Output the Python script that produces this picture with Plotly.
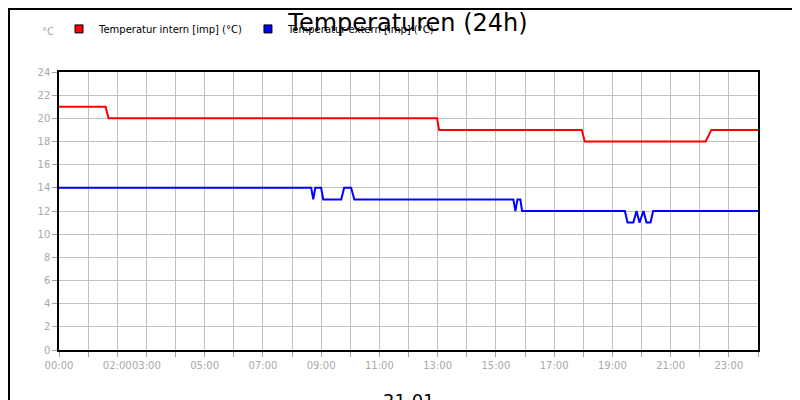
import plotly.graph_objects as go

intern_x = [0, 1.6, 1.7, 12.98, 13.05, 17.95, 18.05, 22.2, 22.4, 24]
intern_y = [21, 21, 20, 20, 19, 19, 18, 18, 19, 19]
extern_x = [0, 8.66, 8.73, 8.8, 9.0, 9.07, 9.69, 9.79, 10.03, 10.14, 15.6, 15.67, 15.74, 15.84, 15.9,
            19.43, 19.52, 19.72, 19.83, 19.93, 20.07, 20.17, 20.31, 20.4, 24]
extern_y = [14, 14, 13, 14, 14, 13, 13, 14, 14, 13, 13, 12, 13, 13, 12,
            12, 11, 11, 12, 11, 12, 11, 11, 12, 12]
hour_ticks = list(range(25))
label_hours = {0: "00:00", 2: "02:00", 3: "03:00", 5: "05:00", 7: "07:00", 9: "09:00", 11: "11:00",
               13: "13:00", 15: "15:00", 17: "17:00", 19: "19:00", 21: "21:00", 23: "23:00"}
tick_text = [label_hours.get(h, "") for h in hour_ticks]
y_ticks = list(range(0, 25, 2))
names = ["Temperatur intern [imp] (°C)", "Temperatur extern [imp] (°C)"]
colors = ["#ff0000", "#0000ff"]

fig = go.Figure()
fig.add_trace(go.Scatter(x=intern_x, y=intern_y, mode="lines", line=dict(color=colors[0], width=2),
                         showlegend=False))
fig.add_trace(go.Scatter(x=extern_x, y=extern_y, mode="lines", line=dict(color=colors[1], width=2),
                         showlegend=False))
for n, c in zip(names, colors):
    fig.add_trace(go.Scatter(x=[None], y=[None], mode="markers", name=n,
                             marker=dict(symbol="square", size=8, color=c, line=dict(color="black", width=1))))
axcommon = dict(showgrid=True, gridcolor="#c0c0c0", gridwidth=1, showline=True, linecolor="black",
                linewidth=1.5, mirror=True, ticks="outside", tickcolor="#a0a0a0", ticklen=5,
                tickfont=dict(family="DejaVu Sans", size=10, color="#a8a8a8"), zeroline=False)
fig.update_xaxes(range=[0, 24], tickvals=hour_ticks, ticktext=tick_text, tickangle=0, **axcommon)
fig.update_yaxes(range=[0, 24], tickvals=y_ticks, **axcommon)
fig.update_layout(
    width=800, height=400, plot_bgcolor="white", paper_bgcolor="white",
    margin=dict(l=51, r=50, t=64, b=58, autoexpand=False),
    title=dict(text="Temperaturen (24h)", x=0.5, xanchor="center", y=0.985, yanchor="top",
               font=dict(family="DejaVu Sans", size=24, color="black")),
    legend=dict(orientation="h", x=0.0, y=1.155, xanchor="left", yanchor="middle",
                font=dict(family="DejaVu Sans", size=10, color="black"),
                bgcolor="rgba(0,0,0,0)", itemwidth=30, tracegroupgap=0),
    showlegend=True,
    shapes=[dict(type="rect", xref="paper", yref="paper", x0=-50/699, x1=1+49/699,
                 y0=-57/278, y1=1+63/278, line=dict(color="black", width=2))],
    annotations=[
        dict(text="21.01", xref="paper", yref="paper", x=0.5, y=-0.135, yanchor="top", showarrow=False,
             font=dict(family="DejaVu Sans", size=18, color="black")),
        dict(text="°C", xref="paper", yref="paper", x=-0.005, y=1.12, xanchor="right", yanchor="bottom",
             showarrow=False, font=dict(family="DejaVu Sans", size=10, color="#a8a8a8")),
    ],
)
fig.write_html("out.html")
